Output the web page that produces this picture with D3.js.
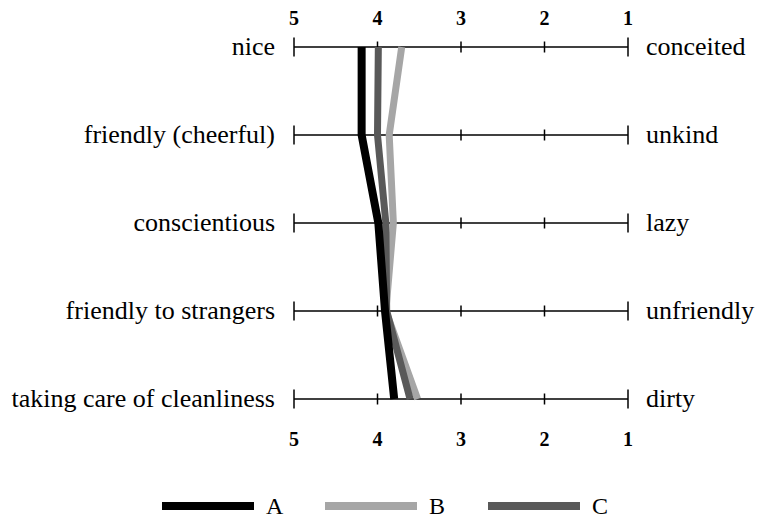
<!DOCTYPE html>
<html>
<head>
<meta charset="utf-8">
<script src="https://cdnjs.cloudflare.com/ajax/libs/d3/7.8.5/d3.min.js"></script>
</head>
<body style="margin:0">
<div id="chart"></div>
<script>
// rows of the semantic differential
const leftLabels = ['nice', 'friendly (cheerful)', 'conscientious', 'friendly to strangers', 'taking care of cleanliness'];
const rightLabels = ['conceited', 'unkind', 'lazy', 'unfriendly', 'dirty'];
const ticks = [5, 4, 3, 2, 1];
const seriesNames = ['A', 'B', 'C'];
const valuesA = [4.19, 4.19, 3.99, 3.91, 3.80];
const valuesB = [3.71, 3.86, 3.81, 3.90, 3.52];
const valuesC = [3.99, 4.00, 3.90, 3.89, 3.61];

const width = 757, height = 518;
const svg = d3.select('#chart').append('svg')
  .attr('width', width)
  .attr('height', height);

const x = d3.scaleLinear().domain([5, 1]).range([294, 628]);
const y = d3.scalePoint().domain(d3.range(leftLabels.length)).range([47, 399]);

/* ---------- axis rows ---------- */
svg.selectAll('.row').data(leftLabels).enter().append('line')
  .attr('class', 'row')
  .attr('x1', x(5)).attr('x2', x(1))
  .attr('y1', (d, i) => y(i)).attr('y2', (d, i) => y(i))
  .attr('stroke', '#000').attr('stroke-width', 1.5);

leftLabels.forEach((lab, i) => {
  svg.selectAll(null).data(ticks).enter().append('line')
    .attr('x1', d => x(d)).attr('x2', d => x(d))
    .attr('y1', d => y(i) + ((d === 5 || d === 1) ? -9.5 : -5.5))
    .attr('y2', d => y(i) + ((d === 5 || d === 1) ? 9.5 : 5.5))
    .attr('stroke', '#000').attr('stroke-width', 1.5);
});

svg.selectAll('.left').data(leftLabels).enter().append('text')
  .attr('x', 275).attr('y', (d, i) => y(i) + 8)
  .attr('text-anchor', 'end')
  .style('font-family', '"Liberation Serif"')
  .style('font-size', '26px')
  .text(d => d);

svg.selectAll('.right').data(rightLabels).enter().append('text')
  .attr('x', 646).attr('y', (d, i) => y(i) + 8)
  .style('font-family', '"Times New Roman"')
  .style('font-size', '26px')
  .text(d => d);

/* ---------- tick numbers top and bottom ---------- */
[25, 446].forEach(yy => {
  svg.selectAll(null).data(ticks).enter().append('text')
    .attr('x', d => x(d)).attr('y', yy)
    .attr('text-anchor', 'middle')
    .style('font-weight', 'bold')
    .style('font-family', '"Tinos"')
    .style('font-size', '20px')
    .text(d => d);
});

/* ---------- profile lines ---------- */
const series = [
  { name: 'B', values: valuesB, color: '#a6a6a6', w: 7 },
  { name: 'C', values: valuesC, color: '#595959', w: 7 },
  { name: 'A', values: valuesA, color: '#000000', w: 8 }
];
const line = d3.line()
  .x(d => x(d))
  .y((d, i) => y(i));

svg.selectAll('.profile').data(series).enter().append('path')
  .attr('class', 'profile')
  .attr('d', d => line(d.values))
  .attr('fill', 'none')
  .attr('stroke', d => d.color)
  .attr('stroke-linejoin', 'round')
  .attr('stroke-width', d => d.w);

/* ---------- legend ---------- */
const legendColors = { A: '#000000', B: '#a6a6a6', C: '#595959' };
svg.selectAll('.lgl').data(seriesNames).enter().append('line')
  .attr('x1', (d, i) => 162 + i * 163).attr('x2', (d, i) => 254 + i * 163)
  .attr('y1', 506).attr('y2', 506)
  .attr('stroke', d => legendColors[d])
  .attr('stroke-width', 8);
svg.selectAll('.lgt').data(seriesNames).enter().append('text')
  .attr('x', (d, i) => 266 + i * 163).attr('y', 514)
  .style('font-family', '"Liberation Serif"')
  .style('font-size', '24px')
  .text(d => d);
</script>
</body>
</html>
